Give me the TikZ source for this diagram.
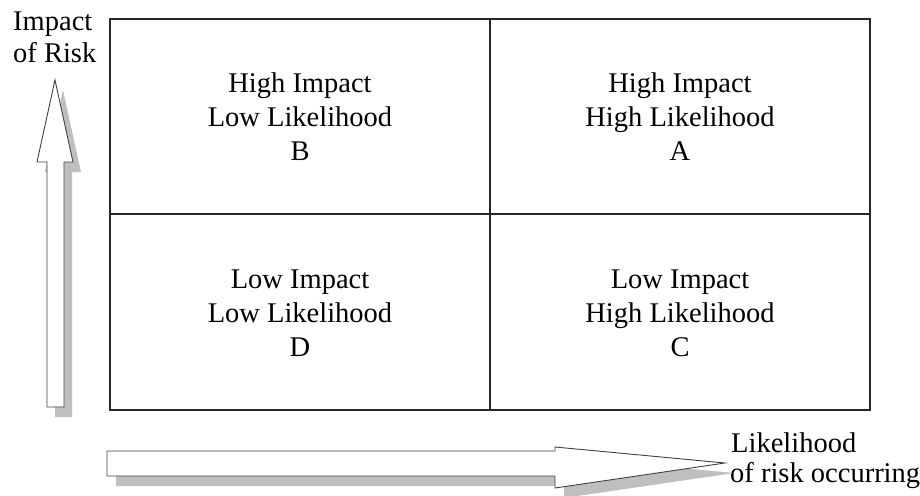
\documentclass[tikz,border=0pt]{standalone}
\usepackage{fontspec}
\setmainfont{Liberation Serif}
\begin{document}
\begin{tikzpicture}[x=1pt,y=-1pt,
  lbl/.style={font=\fontsize{28.5}{34}\selectfont, inner sep=0pt, anchor=base},
  side/.style={font=\fontsize{28.5}{34}\selectfont, inner sep=0pt, anchor=base west},
  grid/.style={draw=black!85, line width=1.3pt},
  arrowbody/.style={draw=black!75, line width=0.9pt, fill=white, line join=miter},
  arrowshadow/.style={fill=black!25, draw=none}]
\useasboundingbox (0,0) rectangle (920,495);
% matrix frame
\coordinate (tl) at (110,19);
\coordinate (br) at (870,410);
\coordinate (mt) at (490,19);
\coordinate (mb) at (490,410);
\coordinate (ml) at (110,214);
\coordinate (mr) at (870,214);
\draw[grid] (tl) rectangle (br);
\draw[grid] (mt) -- (mb);
\draw[grid] (ml) -- (mr);
% cell texts
\node[lbl] (b1) at (300,92) {High Impact};
\node[lbl] (b2) at (300,126) {Low Likelihood};
\node[lbl] (b3) at (300,160) {B};
\node[lbl] (a1) at (680,92) {High Impact};
\node[lbl] (a2) at (680,126) {High Likelihood};
\node[lbl] (a3) at (680,160) {A};
\node[lbl] (d1) at (300,288) {Low Impact};
\node[lbl] (d2) at (300,322) {Low Likelihood};
\node[lbl] (d3) at (300,356) {D};
\node[lbl] (c1) at (680,288) {Low Impact};
\node[lbl] (c2) at (680,322) {High Likelihood};
\node[lbl] (c3) at (680,356) {C};
% axis labels
\node[side] (i1) at (13,31) {Impact};
\node[side] (i2) at (13,63) {of Risk};
\node[side] (l1) at (731,452) {Likelihood};
\node[side] (l2) at (730,482) {of risk occurring};
% vertical arrow
\begin{scope}[shift={(8,10)}]
\fill[arrowshadow] (55,80) -- (73,162) -- (64,162) -- (64,407) -- (47,407) -- (47,162) -- (37,162) -- cycle;
\end{scope}
\draw[arrowbody] (55,80) -- (73,162) -- (64,162) -- (64,407) -- (47,407) -- (47,162) -- (37,162) -- cycle;
% horizontal arrow
\begin{scope}[shift={(9,10)}]
\fill[arrowshadow] (107,451) -- (555,451) -- (555,447) -- (725,463) -- (555,488) -- (555,476) -- (107,476) -- cycle;
\end{scope}
\draw[arrowbody] (107,451) -- (555,451) -- (555,447) -- (725,463) -- (555,488) -- (555,476) -- (107,476) -- cycle;
\end{tikzpicture}
\end{document}
